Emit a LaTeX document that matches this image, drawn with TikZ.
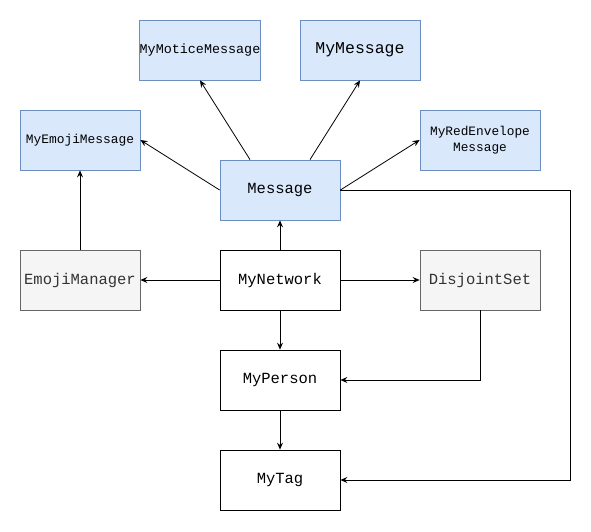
\documentclass[tikz,border=0pt]{standalone}
\usepackage{fontspec}
\setmonofont{Liberation Mono}
\usetikzlibrary{arrows.meta,calc}
\definecolor{bfill}{HTML}{DAE8FC}
\definecolor{bline}{HTML}{6C8EBF}
\definecolor{gfill}{HTML}{F5F5F5}
\definecolor{gline}{HTML}{666666}
\definecolor{gtext}{HTML}{333333}
\begin{document}
\begin{tikzpicture}[x=1pt,y=-1pt,
  box/.style={draw,rectangle,minimum width=120pt,minimum height=60pt,inner sep=0pt,align=center,font=\ttfamily\fontsize{15.5}{18}\selectfont,line width=0.8pt},
  bluebox/.style={box,fill=bfill,draw=bline},
  graybox/.style={box,fill=gfill,draw=gline,text=gtext},
  arr/.style={-{Stealth[length=7pt,width=6pt,inset=2.5pt]},line width=0.8pt}]
\useasboundingbox (0,0) rectangle (591,531);
\node[bluebox,font=\ttfamily\fontsize{13.4}{15}\selectfont] (motice) at (200,50) {MyMoticeMessage};
\node[bluebox,font=\ttfamily\fontsize{16.5}{19}\selectfont] (mymsg) at (360,50) {MyMessage};
\node[bluebox,font=\ttfamily\fontsize{12.9}{15}\selectfont] (emojimsg) at (80,140) {MyEmojiMessage};
\node[bluebox,font=\ttfamily\fontsize{12.8}{16}\selectfont] (red) at (480,140) {MyRedEnvelope\\Message};
\node[bluebox] (msg) at (280,190) {Message};
\node[graybox] (emojimgr) at (80,280) {EmojiManager};
\node[box] (net) at (280,280) {MyNetwork};
\node[graybox] (dset) at (480,280) {DisjointSet};
\node[box] (person) at (280,380) {MyPerson};
\node[box] (tag) at (280,480) {MyTag};
\draw[arr] (msg.west) -- (emojimsg.east);
\draw[arr] ($(msg.north)+(-30,0)$) -- (motice.south);
\draw[arr] ($(msg.north)+(30,0)$) -- (mymsg.south);
\draw[arr] (msg.east) -- (red.west);
\draw[arr] (msg.east) -- (570,190) -- (570,480) -- (tag.east);
\draw[arr] (emojimgr.north) -- (emojimsg.south);
\draw[arr] (net.north) -- (msg.south);
\draw[arr] (net.west) -- (emojimgr.east);
\draw[arr] (net.east) -- (dset.west);
\draw[arr] (net.south) -- (person.north);
\draw[arr] (dset.south) |- (person.east);
\draw[arr] (person.south) -- (tag.north);
\end{tikzpicture}
\end{document}
